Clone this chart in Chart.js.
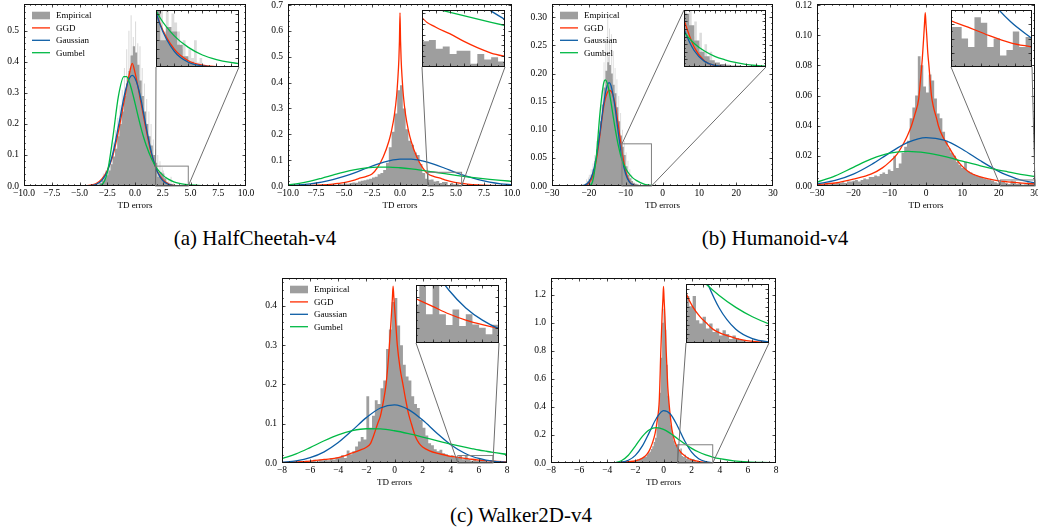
<!DOCTYPE html>
<html>
<head>
  <meta charset="utf-8">
  <title>TD error distributions</title>
  <script src="https://cdn.jsdelivr.net/npm/chart.js"></script>
  <style>
    html, body { margin: 0; padding: 0; overflow: hidden; background: #fff; }
    body { position: relative; width: 1038px; height: 529px; font-family: 'Liberation Serif', 'Times New Roman', serif; }
    canvas { position: absolute; }
    .caption { position: absolute; font-size: 21px; line-height: 24px; white-space: nowrap; transform: translateX(-50%); color: #000; }
  </style>
</head>
<body>
  <div class="caption" style="left:255px; top:226px;">(a) HalfCheetah-v4</div>
  <div class="caption" style="left:775px; top:226px;">(b) Humanoid-v4</div>
  <div class="caption" style="left:521px; top:503px;">(c) Walker2D-v4</div>

<script>
// ---- data ----
const legendLabels = ['Empirical', 'GGD', 'Gaussian', 'Gumbel'];

// (a) HalfCheetah, left
const hcA_x = [-10, -5, -4, -3.5, -3, -2.5, -2, -1.5, -1, -0.75, -0.5, -0.25, 0, 0.25, 0.5, 0.75, 1, 1.5, 2, 2.5, 3, 3.5, 4, 4.5, 5, 6, 7, 8, 10];
const hcA_ggd = [0, 0, .003, .008, .022, .05, .097, .175, .27, .318, .362, .395, .365, .322, .275, .228, .182, .10, .048, .02, .007, .002, .0005, 0, 0, 0, 0, 0, 0];
const hcA_gauss = [0, 0, .0013, .0053, .0175, .047, .105, .191, .285, .322, .347, .356, .347, .322, .285, .239, .191, .105, .047, .0175, .0053, .0013, .0003, 0, 0, 0, 0, 0, 0];
const hcA_gumbel = [0, 0, 0, .0002, .004, .043, .155, .288, .352, .352, .333, .303, .267, .229, .193, .16, .132, .087, .055, .035, .022, .0135, .0084, .0052, .0032, .0012, .0005, .0002, 0];
const hcA_darkBins = [-3.6, 0.2];
const hcA_dark = [.003, .005, .01, .018, .025, .035, .05, .07, .095, .12, .16, .2, .24, .29, .33, .37, .42, .45, .43, .39,
  .34, .29, .24, .2, .16, .13, .1, .075, .03, .045, .04, .025, .012, .006, .003];
const hcA_lightBins = [-3.0, 0.1];
const hcA_light = [.02, .04, .01, .05, .03, .06, .04, .08, .05, .1, .14, .09, .18, .12, .22, .17, .26, .2, .31, .25,
  .38, .3, .44, .35, .5, .38, .55, .42, .48, .4, .53, .4, .46, .36, .45, .3, .38, .27, .33, .22,
  .28, .16, .24, .12, .2, .09, .15, .07, .12, .05, .1, .04, .08, .03, .06, .05, .04, .02, .03, .01,
  .02, .01, .03, .005, .01];

// (a) HalfCheetah, right
const hcB_x = [-10, -9, -8, -7, -6, -5, -4, -3, -2, -1, 0, 1, 2, 3, 4, 5, 6, 7, 8, 9, 10];
const hcB_gauss = [.0023, .0046, .0086, .015, .0243, .0369, .052, .0687, .0846, .0971, .104, .104, .0971, .0846, .0687, .052, .0369, .0243, .015, .0086, .0046];
const hcB_gumbel = [.0046, .0101, .0187, .0299, .042, .0539, .0634, .07, .0732, .0732, .0706, .0661, .0604, .0541, .0477, .0415, .0357, .0304, .0257, .0217, .0181];
const hcB_ggdX = [-10, -9, -8, -7, -6, -5.5, -5, -4.5, -4, -3.5, -3, -2.5, -2, -1.5, -1, -0.75, -0.5, -0.3, -0.2, -0.1, -0.05, 0,
  0.05, 0.1, 0.2, 0.3, 0.5, 0.75, 1, 1.5, 2, 2.5, 3, 3.5, 4, 4.5, 5, 5.5, 6, 7, 8, 9, 10];
const hcB_ggd = [.001, .0016, .0027, .0045, .0075, .0099, .013, .018, .024, .031, .037, .046, .072, .112, .172, .215, .275, .35, .41, .49, .56, .67,
  .56, .49, .41, .35, .275, .215, .172, .112, .072, .046, .037, .031, .024, .018, .013, .0099, .0075, .0045, .0027, .0016, .001];
const hcB_bins = [-7, 0.25];
const hcB_hist = [.003, .004, .003, .005, .006, .005, .008, .007, .01, .009, .012, .014, .013, .017, .02, .022,
  .025, .028, .033, .036, .045, .05, .062, .09, .15, .21, .28, .37, .39, .3, .22, .175, .16, .13, .12, .085,
  .05, .028, .024, .025, .017, .019, .012, .015, .015, .003, .012, .007, .009, .005, .006, .004,
  .004, .003, .003, .002, .002, .001, .001, .001];

// (b) Humanoid, left
const huA_x = [-30, -22, -21, -20, -19, -18, -17, -16, -15.5, -15, -14.5, -14, -13, -12, -11, -10, -9, -8, -7, -6, -5, -4, -3, -2, 0, 5, 30];
const huA_ggd = [0, .0002, .001, .005, .017, .045, .09, .14, .156, .166, .17, .169, .15, .108, .062, .026, .008, .002, .0005, 0, 0, 0, 0, 0, 0, 0, 0];
const huA_gauss = [0, .0005, .0021, .0074, .0214, .05, .0946, .145, .165, .179, .184, .179, .145, .0946, .05, .0214, .0074, .0021, .0005, .0001, 0, 0, 0, 0, 0, 0, 0];
const huA_gumbel = [0, 0, 0, .0002, .0075, .0504, .128, .182, .1887, .183, .1687, .1495, .108, .0722, .0462, .031, .021, .014, .0095, .006, .0035, .002, .001, .0006, .0002, 0, 0];
const huA_darkBins = [-22, 0.5];
const huA_dark = [.001, .002, .004, .008, .012, .02, .03, .045, .065, .09, .115, .145, .175, .205, .22, .215, .2, .18,
  .165, .14, .115, .09, .07, .055, .035, .02, .014, .009, .006, .004, .003, .002, .002, .001, .001, .001];
const huA_lightBins = [-21, 0.25];
const huA_light = [.005, .012, .008, .015, .02, .012, .03, .022, .04, .028, .055, .04, .08, .06, .1, .085,
  .14, .11, .17, .13, .22, .17, .26, .2, .3, .23, .28, .21, .27, .19, .24, .17, .21, .15, .19, .13,
  .16, .1, .13, .08, .1, .05, .08, .04, .06, .03, .045, .02, .03, .012, .02, .008];

// (b) Humanoid, right
const huB_x = [-30, -25, -20, -15, -10, -5, 0, 5, 10, 15, 20, 22.5, 25, 27.5, 30];
const huB_gauss = [.00147, .0037, .0079, .0143, .022, .0289, .0321, .0304, .0244, .0167, .0097, .007, .0048, .00317, .002];
const huB_gumbel = [.0025, .00666, .0124, .018, .0218, .023, .022, .0196, .0165, .0134, .0106, .0094, .0082, .0072, .0063];
const huB_ggdX = [-30, -25, -20, -15, -12, -10, -8, -6, -5, -4, -3, -2, -1.5, -1, -0.6, -0.4, -0.2, 0, 0.2, 0.5,
  0.8, 1.5, 2, 3, 3.4, 4, 5, 6, 8, 10, 12, 15, 20, 22.5, 25, 27.5, 30];
const huB_ggd = [.001, .002, .0045, .008, .012, .016, .021, .029, .034, .04, .048, .058, .071, .085, .1, .108, .115, .107, .1, .088,
  .08, .06, .053, .044, .04, .036, .031, .027, .019, .013, .009, .006, .0034, .0028, .0022, .0017, .0014];
const huB_bins = [-30, 0.75];
const huB_hist = [.001, .0005, .001, .0015, .001, .002, .0015, .002, .002, .0025, .002, .003, .003, .0035, .004, .003,
  .004, .005, .0045, .006, .006, .007, .0065, .008, .009, .008, .011, .01, .02, .012, .015, .022,
  .026, .03, .045, .052, .06, .086, .08, .066, .062, .074, .07, .058, .048, .045, .036, .03,
  .025, .022, .02, .016, .014, .012, .016, .01, .009, .008, .007, .0065, .006, .005, .0045, .004,
  .0035, .0025, .0019, .0028, .0028, .002, .0014, .0035, .0031, .0014, .002, .0008, .0012, .0025, .0014, .0021];

// (c) Walker2D, left
const waA_x = [-8, -7, -6, -5, -4, -3, -2, -1, 0, 1, 2, 3, 4, 5, 5.5, 6, 6.5, 7, 8];
const waA_gauss = [.00204, .00565, .0136, .0285, .0521, .0831, .1155, .14, .148, .136, .1094, .0766, .0467, .0249, .0172, .0115, .0075, .0047, .0016];
const waA_gumbel = [.0111, .0231, .0392, .0566, .0717, .0823, .0872, .0867, .0821, .0748, .0661, .057, .0482, .0402, .0366, .0331, .03, .027, .0219];
const waA_ggdX = [-8, -7, -6, -5, -4, -3, -2.5, -2, -1.7, -1.5, -1.2, -1, -0.8, -0.6, -0.4, -0.25, -0.15, -0.1, -0.05, 0,
  0.1, 0.2, 0.4, 0.6, 0.8, 1, 1.2, 1.5, 1.75, 2, 2.5, 3, 3.5, 4, 4.5, 5, 5.5, 6, 6.5, 7, 8];
const waA_ggd = [.001, .0025, .005, .009, .0136, .0255, .032, .04, .05, .068, .1, .12, .155, .2, .28, .36, .42, .45, .424, .398,
  .35, .3, .24, .2, .16, .125, .1, .066, .05, .041, .031, .025, .021, .017, .0145, .012, .0095, .0075, .006, .0048, .003];
const waA_bins = [-8, 0.2];
const waA_hist = [.002, .001, .003, .002, .004, .003, .005, .002, .006, .004, .006, .008, .004, .009, .007, .01, .007, .012, .009, .014,
  .015, .02, .013, .032, .022, .03, .042, .055, .066, .06, .17, .09, .12, .16, .15, .19, .21, .29, .34, .41,
  .42, .35, .3, .25, .22, .21, .17, .15, .14, .11, .09, .07, .05, .045, .035, .03, .034, .025, .022, .018,
  .02, .014, .0126, .02, .0094, .02, .0094, .0059, .011, .0056, .0094, .0061, .005, .0029, .006, .004, .003, .002, .0025, .001];

// (c) Walker2D, right
const waB_x = [-8, -4, -3, -2.5, -2, -1.5, -1, -0.5, 0, 0.5, 1, 1.5, 2, 2.5, 3, 3.5, 4, 5, 6, 7, 8];
const waB_gauss = [0, .00024, .0056, .0195, .0543, .122, .22, .319, .373, .348, .262, .1585, .0771, .0301, .0095, .0024, .0005, 0, 0, 0, 0];
const waB_gumbel = [0, .0001, .0161, .0554, .1207, .19, .2375, .252, .2403, .2103, .1734, .1367, .1047, .0784, .0578, .0422, .0305, .0157, .008, .0041, .0021];
const waB_ggdX = [-8, -6, -4, -3, -2.5, -2, -1.5, -1.2, -1, -0.8, -0.6, -0.45, -0.3, -0.19, -0.1, -0.04, 0, 0.04, 0.1, 0.19,
  0.3, 0.4, 0.5, 0.6, 0.8, 1, 1.2, 1.42, 1.6, 1.82, 2.05, 2.32, 2.55, 2.82, 3.1, 3.5, 4, 5, 6, 8];
const waB_ggd = [0, .0002, .002, .005, .01, .016, .035, .06, .09, .14, .21, .3, .45, .8, 1.05, 1.17, 1.26, 1.17, 1.05, .8,
  .55, .42, .32, .24, .155, .11, .08, .058, .045, .03, .021, .0144, .009, .0053, .003, .0015, .0008, .0002, 0, 0];
const waB_bins = [-4, 0.1];
const waB_hist = [.001, .002, .001, .002, .003, .002, .004, .003, .005, .004, .006, .005, .008, .007, .01, .009, .012, .015, .013, .018,
  .02, .025, .022, .03, .035, .04, .05, .045, .06, .07, .08, .1, .12, .15, .18, .25, .35, .5, .75, 1.0,
  1.1, .95, .7, .48, .35, .27, .2, .16, .13, .12, .1035, .081, .1035, .05, .043, .058, .032, .043, .024, .032,
  .0166, .028, .02, .009, .0166, .011, .0068, .0068, .003, .003, .0015, .0015, .0015, .001, .001, .0008, .0005, .0005, .0003, .0002];

// ---- styling ----
const SERIF = "'Liberation Serif', 'Times New Roman', serif";
const RED = '#ff2c00', BLUE = '#0c5da5', GREEN = '#00b945', GRAY = '#9e9e9e', LIGHT = '#dcdcdc';
const PAD_L = 34, PAD_T = 6, PAD_R = 14, PAD_B = 25;

function curve(xs, ys, color, order) {
  return {
    data: xs.map((x, i) => ({ x, y: ys[i] })),
    borderColor: color, borderWidth: 1.3, pointRadius: 0, fill: false,
    cubicInterpolationMode: 'monotone', order
  };
}

function hist(bins, vals, color, order) {
  const pts = vals.map((v, i) => ({ x: bins[0] + i * bins[1], y: v }));
  pts.push({ x: bins[0] + vals.length * bins[1], y: 0 });
  return {
    data: pts, stepped: true, fill: 'origin', backgroundColor: color,
    borderColor: 'rgba(0,0,0,0)', borderWidth: 0, pointRadius: 0, order
  };
}

function fmt(v, dec) {
  return (v < -1e-9 ? '\u2212' : '') + Math.abs(v).toFixed(dec);
}

// inward ticks on all four sides plus the axes frame
const frameTicks = {
  id: 'frameTicks',
  afterDatasetsDraw(chart, args, o) {
    const { ctx, chartArea: a } = chart;
    const sx = chart.scales.x, sy = chart.scales.y;
    ctx.save();
    ctx.strokeStyle = '#222';
    ctx.lineWidth = 0.8;
    ctx.beginPath();
    const along = (s, step, len, horiz) => {
      const k0 = Math.ceil(s.min / step - 1e-6), k1 = Math.floor(s.max / step + 1e-6);
      for (let k = k0; k <= k1; k++) {
        const p = Math.round(s.getPixelForValue(k * step)) + 0.5;
        if (horiz) {
          if (p < a.left + 1 || p > a.right - 1) continue;
          ctx.moveTo(p, a.bottom); ctx.lineTo(p, a.bottom - len);
          ctx.moveTo(p, a.top); ctx.lineTo(p, a.top + len);
        } else {
          if (p < a.top + 1 || p > a.bottom - 1) continue;
          ctx.moveTo(a.left, p); ctx.lineTo(a.left + len, p);
          ctx.moveTo(a.right, p); ctx.lineTo(a.right - len, p);
        }
      }
    };
    along(sx, o.xStep, 3.5, true);
    along(sx, o.xStep / o.xSub, 1.8, true);
    along(sy, o.yStep, 3.5, false);
    along(sy, o.yStep / o.ySub, 1.8, false);
    ctx.stroke();
    ctx.strokeStyle = '#111';
    ctx.lineWidth = 1;
    ctx.strokeRect(Math.round(a.left) + 0.5, Math.round(a.top) + 0.5,
      Math.round(a.right - a.left) - 1, Math.round(a.bottom - a.top) - 1);
    ctx.restore();
  }
};

// zoom rectangle and the two connector lines to the inset
const zoomMark = {
  id: 'zoomMark',
  afterDatasetsDraw(chart, args, o) {
    if (!o.rect) return;
    const { ctx } = chart;
    const sx = chart.scales.x, sy = chart.scales.y;
    const L = sx.getPixelForValue(o.rect[0]), R = sx.getPixelForValue(o.rect[1]);
    const T = sy.getPixelForValue(o.rect[2]), B = sy.getPixelForValue(0);
    const [il, it, ir, ib] = o.inset.map((v, i) => v - (i % 2 ? o.offset[1] : o.offset[0]));
    const corners = {
      ll: [[L, B], [il, ib]], lr: [[R, B], [ir, ib]],
      ul: [[L, T], [il, it]], ur: [[R, T], [ir, it]]
    };
    ctx.save();
    ctx.strokeStyle = '#808080';
    ctx.lineWidth = 1;
    ctx.strokeRect(L, T, R - L, B - T);
    ctx.strokeStyle = '#6e6e6e';
    ctx.beginPath();
    o.links.forEach(k => {
      const [p, q] = corners[k];
      ctx.moveTo(p[0], p[1]); ctx.lineTo(q[0], q[1]);
    });
    ctx.stroke();
    ctx.restore();
  }
};

const legendBox = {
  id: 'legendBox',
  afterDraw(chart, args, o) {
    if (!o.show) return;
    const { ctx, chartArea: a } = chart;
    const colors = [GRAY, RED, BLUE, GREEN];
    ctx.save();
    ctx.font = '9px ' + SERIF;
    ctx.textBaseline = 'middle';
    legendLabels.forEach((lab, i) => {
      const y = a.top + 11.5 + i * 12.4, x = a.left + 8;
      if (i === 0) {
        ctx.fillStyle = colors[i];
        ctx.fillRect(x, y - 3.8, 18, 7.6);
      } else {
        ctx.strokeStyle = colors[i];
        ctx.lineWidth = 1.3;
        ctx.beginPath(); ctx.moveTo(x, y); ctx.lineTo(x + 18, y); ctx.stroke();
      }
      ctx.fillStyle = '#000';
      ctx.fillText(lab, a.left + 32, y + 0.5);
    });
    ctx.restore();
  }
};

const whiteBg = {
  id: 'whiteBg',
  beforeDraw(chart) {
    const { ctx, width, height } = chart;
    ctx.save(); ctx.fillStyle = '#fff'; ctx.fillRect(0, 0, width, height); ctx.restore();
  }
};

// panel layout: box = axes frame in page px; x = [min, max, step, minor subdivisions, decimals]; y = [max, step, sub, decimals]
const panels = [
  { box: [24, 4, 246, 186], x: [-10, 10, 2.5, 5, 1], y: [0.586, 0.1, 5, 1], legend: true,
    sets: () => [hist(hcA_lightBins, hcA_light, LIGHT, 5), hist(hcA_darkBins, hcA_dark, GRAY, 4),
      curve(hcA_x, hcA_ggd, RED, 3), curve(hcA_x, hcA_gauss, BLUE, 2), curve(hcA_x, hcA_gumbel, GREEN, 1)],
    zoom: { rect: [1.85, 4.8, 0.064], inset: [156, 10, 239, 67], ticks: [0.5, 2, 0.01, 1], links: ['ll', 'lr'] } },
  { box: [288, 4, 512, 186], x: [-10, 10, 2.5, 5, 1], y: [0.704, 0.1, 5, 1], legend: false,
    sets: () => [hist(hcB_bins, hcB_hist, GRAY, 4),
      curve(hcB_ggdX, hcB_ggd, RED, 3), curve(hcB_x, hcB_gauss, BLUE, 2), curve(hcB_x, hcB_gumbel, GREEN, 1)],
    zoom: { rect: [2.5, 5.5, 0.053], inset: [422, 10, 505, 67], ticks: [0.5, 2, 0.01, 2], links: ['ll', 'lr'] } },
  { box: [552, 4, 773, 186], x: [-30, 30, 10, 5, 0], y: [0.3237, 0.05, 5, 2], legend: true,
    sets: () => [hist(huA_lightBins, huA_light, LIGHT, 5), hist(huA_darkBins, huA_dark, GRAY, 4),
      curve(huA_x, huA_ggd, RED, 3), curve(huA_x, huA_gauss, BLUE, 2), curve(huA_x, huA_gumbel, GREEN, 1)],
    zoom: { rect: [-11, -3, 0.075], inset: [684, 10, 766, 67], ticks: [1, 2, 0.01, 2], links: ['ul', 'lr'] } },
  { box: [817, 4, 1035, 186], x: [-30, 30, 10, 5, 0], y: [0.1207, 0.02, 4, 2], legend: false,
    sets: () => [hist(huB_bins, huB_hist, GRAY, 4),
      curve(huB_ggdX, huB_ggd, RED, 3), curve(huB_x, huB_gauss, BLUE, 2), curve(huB_x, huB_gumbel, GREEN, 1)],
    zoom: { rect: [20.5, 30, 0.004], inset: [951, 10, 1032, 67], ticks: [2, 2, 0.001, 2], links: ['ll', 'lr'] } },
  { box: [282, 278, 507, 463], x: [-8, 8, 2, 4, 0], y: [0.471, 0.1, 5, 1], legend: true,
    sets: () => [hist(waA_bins, waA_hist, GRAY, 4),
      curve(waA_ggdX, waA_ggd, RED, 3), curve(waA_x, waA_gauss, BLUE, 2), curve(waA_x, waA_gumbel, GREEN, 1)],
    zoom: { rect: [4.5, 7, 0.019], inset: [416, 285, 499, 343], ticks: [0.5, 2, 0.005, 2], links: ['ll', 'lr'] } },
  { box: [551, 278, 776, 463], x: [-8, 8, 2, 4, 0], y: [1.319, 0.2, 4, 1], legend: false,
    sets: () => [hist(waB_bins, waB_hist, GRAY, 4),
      curve(waB_ggdX, waB_ggd, RED, 3), curve(waB_x, waB_gauss, BLUE, 2), curve(waB_x, waB_gumbel, GREEN, 1)],
    zoom: { rect: [1, 3.5, 0.13], inset: [686, 284, 769, 343], ticks: [0.5, 2, 0.02, 2], links: ['ll', 'lr'] } }
];

function addCanvas(left, top, w, h) {
  const cv = document.createElement('canvas');
  cv.width = w; cv.height = h;
  cv.style.left = left + 'px'; cv.style.top = top + 'px';
  cv.style.width = w + 'px'; cv.style.height = h + 'px';
  document.body.appendChild(cv);
  return cv;
}

function build(p) {
  const [bl, bt, br, bb] = p.box;
  const left = bl - PAD_L, top = bt - PAD_T;
  const cv = addCanvas(left, top, br - bl + PAD_L + PAD_R, bb - bt + PAD_T + PAD_B);
  const tickFont = { family: SERIF, size: 9.5 };

  new Chart(cv, {
    type: 'line',
    data: { datasets: p.sets() },
    options: {
      responsive: false, animation: false, events: [], devicePixelRatio: 1,
      layout: { padding: { left: 0, top: PAD_T, right: PAD_R, bottom: 0 } },
      scales: {
        x: {
          type: 'linear', min: p.x[0], max: p.x[1],
          grid: { display: false, drawTicks: false }, border: { display: false },
          ticks: { stepSize: p.x[2], includeBounds: false, autoSkip: false, maxRotation: 0, minRotation: 0,
            padding: 2, color: '#000', font: tickFont, callback: v => fmt(v, p.x[4]) },
          title: { display: true, text: 'TD errors', color: '#000', font: { family: SERIF, size: 9 }, padding: 0 },
          afterFit: s => { s.height = PAD_B; s.paddingLeft = 0; s.paddingRight = 0; }
        },
        y: {
          type: 'linear', min: 0, max: p.y[0],
          grid: { display: false, drawTicks: false }, border: { display: false },
          ticks: { stepSize: p.y[1], includeBounds: false, autoSkip: false,
            padding: 5, color: '#000', font: tickFont, callback: v => fmt(v, p.y[3]) },
          afterFit: s => { s.width = PAD_L; s.paddingTop = 0; s.paddingBottom = 0; }
        }
      },
      plugins: {
        legend: { display: false }, tooltip: { enabled: false },
        frameTicks: { xStep: p.x[2], xSub: p.x[3], yStep: p.y[1], ySub: p.y[2] },
        zoomMark: { rect: p.zoom.rect, inset: p.zoom.inset, offset: [left, top], links: p.zoom.links },
        legendBox: { show: p.legend }
      }
    },
    plugins: [frameTicks, zoomMark, legendBox]
  });

  const [il, it, ir, ib] = p.zoom.inset;
  const ic = addCanvas(il, it, ir - il, ib - it);
  const t = p.zoom.ticks;
  new Chart(ic, {
    type: 'line',
    data: { datasets: p.sets() },
    options: {
      responsive: false, animation: false, events: [], devicePixelRatio: 1,
      scales: {
        x: { type: 'linear', display: false, min: p.zoom.rect[0], max: p.zoom.rect[1] },
        y: { type: 'linear', display: false, min: 0, max: p.zoom.rect[2] }
      },
      plugins: {
        legend: { display: false }, tooltip: { enabled: false },
        frameTicks: { xStep: t[0], xSub: t[1], yStep: t[2], ySub: t[3] }
      }
    },
    plugins: [whiteBg, frameTicks]
  });
}

panels.forEach(build);
</script>
</body>
</html>
